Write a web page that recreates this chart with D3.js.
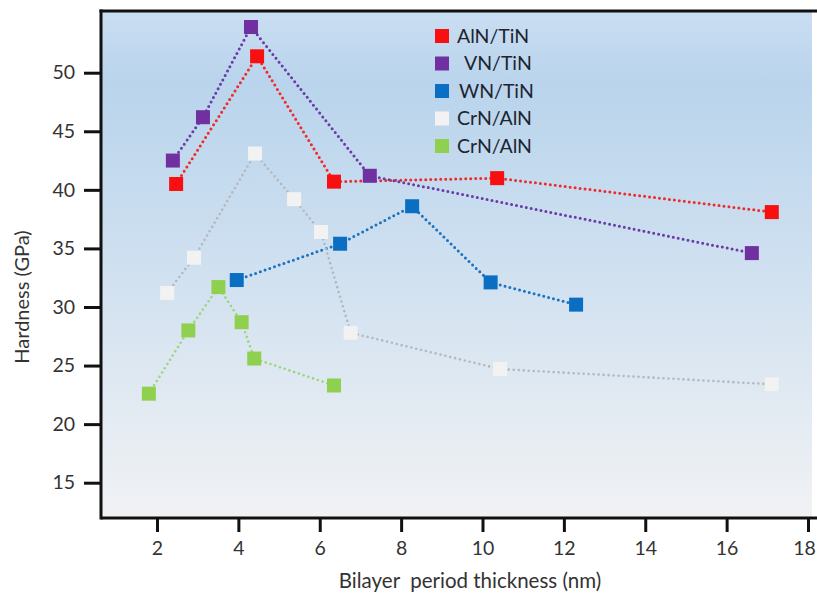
<!DOCTYPE html>
<html>
<head>
<meta charset="utf-8">
<script src="https://cdn.jsdelivr.net/npm/d3@7"></script>
<style>
  html, body { margin: 0; padding: 0; background: #ffffff; }
  svg { display: block; font-family: Lato, "Open Sans", sans-serif; }
</style>
</head>
<body>
<svg id="chart" width="817" height="594"></svg>
<script>
// Hardness of nitride superlattices versus bilayer period
const seriesNames = ["AlN/TiN", "VN/TiN", "WN/TiN", "CrN/AlN", "CrN/AlN"];
const seriesColors = ["#f80f0f", "#7030a0", "#0a6fc2", "#f2f2f2", "#8fd14f"];
const lineColors = ["#ee2a2a", "#6a3aa8", "#1a72c0", "#b4b8bc", "#9ad67a"];

const alnTinX = [2.47, 4.46, 6.35, 10.36, 17.11];
const alnTinY = [40.5, 51.4, 40.7, 41.0, 38.1];

const vnTinX = [2.39, 3.13, 4.31, 7.23, 16.62];
const vnTinY = [42.5, 46.2, 53.9, 41.2, 34.6];

const wnTinX = [3.96, 6.50, 8.27, 10.20, 12.30];
const wnTinY = [32.3, 35.4, 38.6, 32.1, 30.2];

const crnAlnAX = [2.25, 2.91, 4.41, 5.37, 6.03, 6.76, 10.43, 17.11];
const crnAlnAY = [31.2, 34.2, 43.1, 39.2, 36.4, 27.8, 24.7, 23.4];

const crnAlnBX = [1.80, 2.77, 3.51, 4.08, 4.39, 6.35];
const crnAlnBY = [22.6, 28.0, 31.7, 28.7, 25.6, 23.3];

const seriesX = [alnTinX, vnTinX, wnTinX, crnAlnAX, crnAlnBX];
const seriesY = [alnTinY, vnTinY, wnTinY, crnAlnAY, crnAlnBY];

const xTicks = [2, 4, 6, 8, 10, 12, 14, 16, 18];
const yTicks = [15, 20, 25, 30, 35, 40, 45, 50];

const xTitle = "Bilayer  period thickness (nm)";
const yTitle = "Hardness (GPa)";

const svg = d3.select("#chart");
const plot = { left: 101, right: 812, top: 11, bottom: 518 };

const x = d3.scaleLinear().domain([2, 18]).range([157, 808]);
const y = d3.scaleLinear().domain([15, 50]).range([482.7, 72.7]);

// background gradient
const defs = svg.append("defs");
const grad = defs.append("linearGradient")
  .attr("id", "bg").attr("x1", 0).attr("y1", 0).attr("x2", 0).attr("y2", 1);
grad.append("stop").attr("offset", "0%").attr("stop-color", "#cadef2");
grad.append("stop").attr("offset", "14%").attr("stop-color", "#b9d4ec");
grad.append("stop").attr("offset", "50%").attr("stop-color", "#cfe0f0");
grad.append("stop").attr("offset", "100%").attr("stop-color", "#f1f2f4");

svg.append("rect")
  .attr("x", plot.left).attr("y", plot.top)
  .attr("width", plot.right - plot.left).attr("height", plot.bottom - plot.top)
  .attr("fill", "url(#bg)");

// top frame line
svg.append("line")
  .attr("x1", plot.left - 1.5).attr("x2", 817)
  .attr("y1", plot.top).attr("y2", plot.top)
  .attr("stroke", "#111").attr("stroke-width", 3);

// axes
const yAxis = svg.append("g")
  .attr("transform", `translate(${plot.left},0)`)
  .call(d3.axisLeft(y).tickValues(yTicks).tickSize(17).tickPadding(9).tickFormat(d3.format("d")));
const xAxis = svg.append("g")
  .attr("transform", `translate(0,${plot.bottom})`)
  .call(d3.axisBottom(x).tickValues(xTicks).tickSize(14).tickPadding(9).tickFormat(d3.format("d")));

[yAxis, xAxis].forEach(g => {
  g.select(".domain").remove();
  g.selectAll(".tick line").attr("stroke", "#111").attr("stroke-width", 3);
  g.selectAll(".tick text").attr("fill", "#333").style("font-size", "19.5px")
    .style("font-family", "Lato, 'Open Sans', sans-serif");
});
// keep the last x label inside the frame
xAxis.selectAll(".tick text").filter(d => d === 18).attr("dx", "-4");

svg.append("line")
  .attr("x1", plot.left).attr("x2", plot.left)
  .attr("y1", plot.top - 1.5).attr("y2", plot.bottom + 1.5)
  .attr("stroke", "#111").attr("stroke-width", 3);
svg.append("line")
  .attr("x1", plot.left).attr("x2", 817)
  .attr("y1", plot.bottom).attr("y2", plot.bottom)
  .attr("stroke", "#111").attr("stroke-width", 3);

// axis titles
svg.append("text")
  .attr("x", 470).attr("y", 588)
  .attr("text-anchor", "middle")
  .attr("fill", "#333").style("font-size", "20.5px")
  .style("white-space", "pre")
  .text(xTitle);
svg.append("text")
  .attr("transform", "translate(29,297) rotate(-90)")
  .attr("text-anchor", "middle")
  .attr("fill", "#333").style("font-size", "20px")
  .text(yTitle);

// series lines and markers
const line = d3.line().x(d => x(d[0])).y(d => y(d[1]));
const markerSize = 14;

seriesNames.forEach((name, i) => {
  const pts = seriesX[i].map((v, j) => [v, seriesY[i][j]]);
  svg.append("path")
    .datum(pts)
    .attr("d", line)
    .attr("fill", "none")
    .attr("stroke", lineColors[i])
    .attr("stroke-width", i === 3 || i === 4 ? 2.6 : 3)
    .attr("stroke-dasharray", "0 5")
    .attr("stroke-linecap", "round");
});

seriesNames.forEach((name, i) => {
  const pts = seriesX[i].map((v, j) => [v, seriesY[i][j]]);
  svg.append("g").selectAll("rect")
    .data(pts)
    .join("rect")
    .attr("x", d => x(d[0]) - markerSize / 2)
    .attr("y", d => y(d[1]) - markerSize / 2)
    .attr("width", markerSize).attr("height", markerSize)
    .attr("fill", seriesColors[i]);
});

// legend
const legend = svg.append("g").attr("transform", "translate(435,36)");
const legendIndent = [0, 7, 2, 0, 0];
seriesNames.forEach((name, i) => {
  const row = legend.append("g").attr("transform", `translate(0,${i * 27.5})`);
  row.append("rect")
    .attr("x", 0).attr("y", -7).attr("width", 14).attr("height", 14)
    .attr("fill", seriesColors[i]);
  row.append("text")
    .attr("x", 22 + legendIndent[i]).attr("y", 0).attr("dy", "0.35em")
    .attr("fill", "#1c2430").style("font-size", "19.5px")
    .text(name);
});
</script>
</body>
</html>
